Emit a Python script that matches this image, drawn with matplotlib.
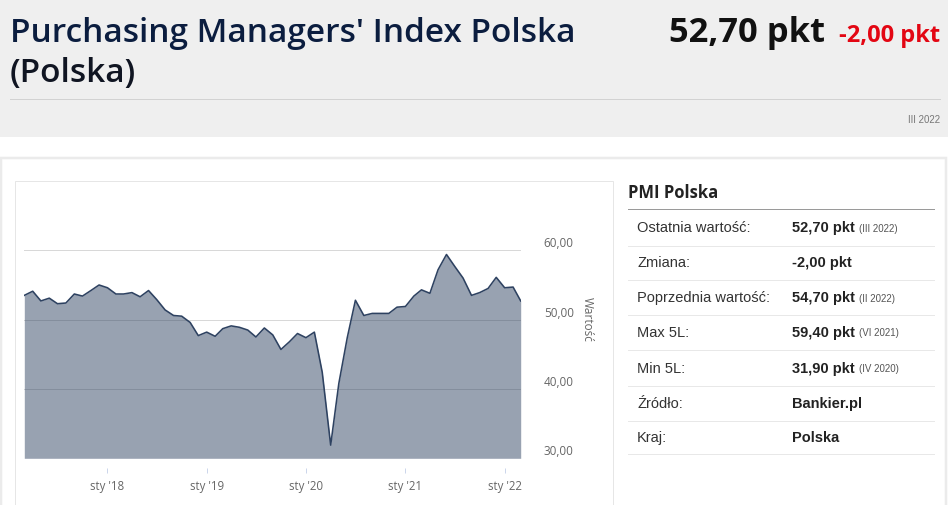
import matplotlib
matplotlib.use('Agg')
import matplotlib.pyplot as plt
import matplotlib.patches as mpatches
import matplotlib.lines as mlines
import pandas as pd

# ---------------- data ----------------
start_month = '2017-03-01'
pmi_values = [
    53.5, 54.1, 52.7, 53.1, 52.3, 52.4, 53.7, 53.4, 54.2, 55.0,          # 2017 III-XII
    54.6, 53.7, 53.7, 53.9, 53.3, 54.2, 52.9, 51.4, 50.6, 50.5, 49.6, 47.7,  # 2018
    48.2, 47.6, 48.7, 49.1, 48.9, 48.5, 47.5, 48.8, 47.8, 45.7, 46.8, 48.0,  # 2019
    47.4, 48.2, 42.4, 31.9, 40.8, 47.4, 52.8, 50.6, 50.9, 50.9, 50.9, 51.8,  # 2020
    51.9, 53.4, 54.3, 53.8, 57.2, 59.4, 57.7, 56.0, 53.5, 53.9, 54.5, 56.1,  # 2021
    54.6, 54.7, 52.7,                                                    # 2022 I-III
]
x_tick_dates = ['2018-01-01', '2019-01-01', '2020-01-01', '2021-01-01', '2022-01-01']
x_tick_labels = ["sty '18", "sty '19", "sty '20", "sty '21", "sty '22"]
y_ticks = [30, 40, 50, 60]
y_tick_labels = ['30,00', '40,00', '50,00', '60,00']
y_axis_title = 'Wartość'

title_lines = ["Purchasing Managers' Index Polska", "(Polska)"]
last_value_text = '52,70 pkt'
change_text = '-2,00 pkt'
period_text = 'III 2022'

table_title = 'PMI Polska'
row_labels = ['Ostatnia wartość:', 'Zmiana:', 'Poprzednia wartość:', 'Max 5L:',
              'Min 5L:', 'Źródło:', 'Kraj:']
row_values = ['52,70 pkt', '-2,00 pkt', '54,70 pkt', '59,40 pkt', '31,90 pkt',
              'Bankier.pl', 'Polska']
row_notes = ['(III 2022)', '', '(II 2022)', '(VI 2021)', '(IV 2020)', '', '']

dates = pd.date_range(start_month, periods=len(pmi_values), freq='MS')

# ---------------- figure ----------------
W, H = 948, 505
fig = plt.figure(figsize=(W / 100, H / 100), dpi=100)
fig.patch.set_facecolor('white')


def fx(px):
    return px / W


def fy(py):
    return 1 - py / H


PX = 0.72  # points per pixel

# header background
fig.add_artist(mpatches.Rectangle((0, fy(137)), 1, 137 / H, transform=fig.transFigure,
                                  facecolor='#efefef', edgecolor='none', zorder=-3))
# header separator
fig.add_artist(mlines.Line2D([fx(10), fx(940)], [fy(98.5), fy(98.5)], transform=fig.transFigure,
                             color='#d2d2d2', lw=1 * PX, zorder=-2))
# outer panel
fig.add_artist(mpatches.Rectangle((fx(1), fy(515)), fx(945), (515 - 158) / H, transform=fig.transFigure,
                                  facecolor='white', edgecolor='#ebebeb', lw=2.5 * PX, zorder=-2))
# chart box
fig.add_artist(mpatches.Rectangle((fx(14.5), fy(515)), fx(598), (515 - 180.5) / H, transform=fig.transFigure,
                                  facecolor='white', edgecolor='#e6e6e6', lw=1 * PX, zorder=-1))

# header texts
title_font = 'Open Sans'
t1 = fig.text(fx(10), fy(42), title_lines[0], fontsize=24, family=title_font, weight='semibold',
              color='#0b1d3f', va='baseline', ha='left')
t2 = fig.text(fx(10), fy(82), title_lines[1], fontsize=24, family=title_font, weight='semibold',
              color='#101522', va='baseline', ha='left')
tv = fig.text(fx(825), fy(42), last_value_text, fontsize=24, family=title_font, weight='bold',
              color='#111111', va='baseline', ha='right')
tc = fig.text(fx(940), fy(42), change_text, fontsize=16, family=title_font, weight='bold',
              color='#e30613', va='baseline', ha='right')
fig.text(fx(940), fy(120), period_text, fontsize=7, family='Liberation Sans',
         color='#777777', va='center', ha='right')

# table
fig.text(fx(628), fy(193), table_title, fontsize=12, family=title_font, weight='bold',
         color='#222222', va='center', ha='left')
fig.add_artist(mlines.Line2D([fx(628), fx(934)], [fy(209.5), fy(209.5)], transform=fig.transFigure,
                             color='#9a9a9a', lw=1 * PX))
row_y = [228, 263, 298, 333, 369, 404, 438]
sep_y = [246, 280, 315, 350, 386, 421, 454]
value_texts = []
for lbl, val, yy in zip(row_labels, row_values, row_y):
    fig.text(fx(637), fy(yy), lbl, fontsize=10.5, family='Liberation Sans',
             color='#333333', va='center', ha='left')
    value_texts.append(fig.text(fx(792), fy(yy), val, fontsize=10.5, family='Liberation Sans',
                                weight='bold', color='#222222', va='center', ha='left'))
for yy in sep_y:
    fig.add_artist(mlines.Line2D([fx(628), fx(934)], [fy(yy), fy(yy)], transform=fig.transFigure,
                                 color='#e8e8e8', lw=1 * PX))

# ---------------- chart ----------------
ax_left, ax_right = 24.3, 520.7
ax_bottom, ax_top = 458.3, 181.0
ax = fig.add_axes([fx(ax_left), fy(ax_bottom), fx(ax_right - ax_left), (ax_bottom - ax_top) / H])
ax.set_zorder(2)
ax.set_facecolor('none')
ax.set_xlim(dates[0], dates[-1])
ax.set_ylim(30, 70)

line_color = '#2e4261'
for yv in y_ticks[1:]:
    ax.axhline(yv, color='#d8d8d8', lw=1 * PX, zorder=1)
ax.fill_between(dates, pmi_values, 30, color=line_color, alpha=0.49, lw=0, zorder=2)
ax.plot(dates, pmi_values, color=line_color, lw=1.6 * PX, zorder=3, solid_joinstyle='round')
ax.axhline(30, color='#ccd6eb', lw=1 * PX, zorder=4)

for s in ax.spines.values():
    s.set_visible(False)
ax.spines['bottom'].set_position(('outward', 10 * PX))

ax.set_xticks(pd.to_datetime(x_tick_dates))
ax.set_xticklabels(x_tick_labels)
ax.tick_params(axis='x', length=5 * PX, width=1 * PX, color='#ccd6eb', pad=6.5 * PX,
               labelsize=8.3, labelcolor='#666666')
for lab in ax.get_xticklabels():
    lab.set_family('Open Sans')

ax.yaxis.tick_right()
ax.set_yticks(y_ticks)
ax.set_yticklabels(y_tick_labels)
ax.tick_params(axis='y', length=0, pad=23 * PX, labelsize=8.5, labelcolor='#666666')
for lab in ax.get_yticklabels():
    lab.set_family('Open Sans')
    lab.set_va('bottom')

ax.yaxis.set_label_position('right')
ax.set_ylabel(y_axis_title, rotation=270, color='#666666', fontsize=8.5, family='Open Sans')
ax.yaxis.set_label_coords((587 - ax_left) / (ax_right - ax_left), (ax_bottom - 319) / (ax_bottom - ax_top))
ax.yaxis.label.set_va('center')

# ---------------- fit header text widths, add notes ----------------
fig.canvas.draw()
renderer = fig.canvas.get_renderer()


def fit(t, target_px):
    w = t.get_window_extent(renderer).width
    t.set_fontsize(t.get_fontsize() * target_px / w)


fit(t1, 567)
t2.set_fontsize(t1.get_fontsize())
fit(tv, 156)
fit(tc, 101)
fig.canvas.draw()

for vt, note, yy in zip(value_texts, row_notes, row_y):
    if note:
        bb = vt.get_window_extent(renderer)
        fig.text(bb.x1 / W + fx(4), fy(yy + 0.5), note, fontsize=7, family='Liberation Sans',
                 color='#555555', va='center', ha='left')

fig.savefig('out.png', dpi=100, facecolor='white')
